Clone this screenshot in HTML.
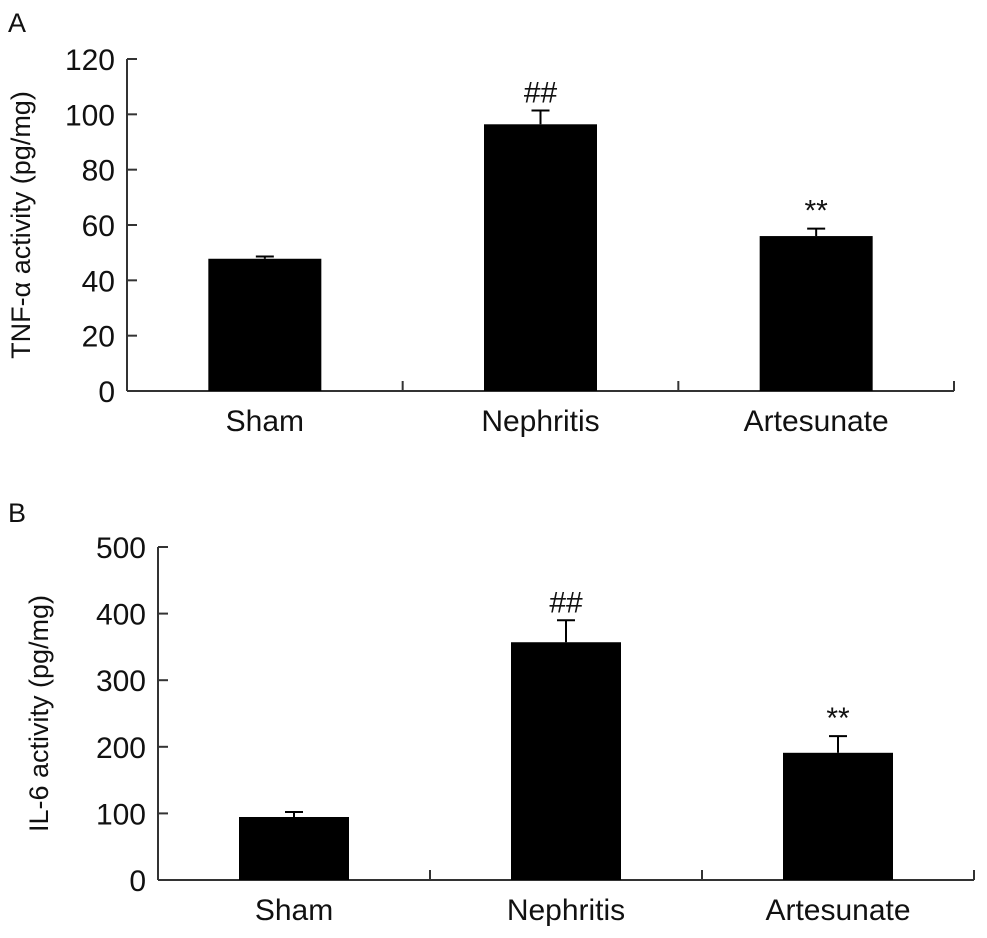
<!DOCTYPE html>
<html><head><meta charset="utf-8"><style>
body{margin:0;background:#fff;}
svg text{font-family:"Liberation Sans",Arial,sans-serif;fill:#111;}
</style></head><body>
<svg id="chart" width="987" height="933" viewBox="0 0 987 933" xmlns="http://www.w3.org/2000/svg"></svg>
<script>
const categories = ["Sham","Nephritis","Artesunate"];
const tnfValues = [47.8, 96.4, 56];
const tnfErrors = [0.8, 5, 2.7];
const tnfMarks = ["", "##", "**"];
const tnfTicks = [0,20,40,60,80,100,120];
const il6Values = [94.6, 357, 191];
const il6Errors = [7.5, 33, 25];
const il6Marks = ["", "##", "**"];
const il6Ticks = [0,100,200,300,400,500];

const svg = document.getElementById('chart');
const NS = "http://www.w3.org/2000/svg";
function mk(tag, attrs, parent){const e=document.createElementNS(NS,tag);for(const k in attrs)e.setAttribute(k,attrs[k]);(parent||svg).appendChild(e);return e;}

function panel(cfg){
  const g = mk('g',{});
  
  
  const yMax = cfg.ticks[cfg.ticks.length-1];
  const yS = v => cfg.y0 - (v / yMax) * (cfg.y0 - cfg.yTop);
  const catW = (cfg.xEnd - cfg.x0) / categories.length;
  const xC = i => cfg.x0 + catW * (i + 0.5);
  const L = mk('text',{x:cfg.letterX,y:cfg.letterY,'font-size':27},g); L.textContent=cfg.letter;
  
  
  const ya = mk('line',{x1:cfg.x0,y1:cfg.yTop,x2:cfg.x0,y2:cfg.y0,stroke:'#333','stroke-width':2},g);
  
  
  const xa = mk('line',{x1:cfg.x0,y1:cfg.y0,x2:cfg.xEnd,y2:cfg.y0,stroke:'#333','stroke-width':2},g);
  
  
  cfg.ticks.forEach(t=>{
    const y=yS(t);
    mk('line',{x1:cfg.x0,y1:y,x2:cfg.x0+10,y2:y,stroke:'#333','stroke-width':2},g);
    const tx=mk('text',{x:cfg.x0-12,y:y+11,'font-size':30,'text-anchor':'end'},g); tx.textContent=t;
    
    
  });
  for(let i=1;i<=categories.length;i++){
    const x=cfg.x0+catW*i;
    mk('line',{x1:x,y1:cfg.y0,x2:x,y2:cfg.y0-10,stroke:'#333','stroke-width':2},g);
  }
  categories.forEach((c,i)=>{
    const cx=xC(i), v=cfg.values[i], e=cfg.errors[i];
    const top=yS(v), et=yS(v+e);
    const el=mk('line',{x1:cx,y1:top,x2:cx,y2:et,stroke:'#000','stroke-width':2},g);
    
    
    mk('line',{x1:cx-9,y1:et,x2:cx+9,y2:et,stroke:'#000','stroke-width':2},g);
    const r=mk('rect',{x:cx-cfg.barW/2,y:top,width:cfg.barW,height:cfg.y0-top,fill:'#000'},g);
    
    
    if(cfg.marks[i]){
      const m=mk('text',{x:cx,y:et-8,'font-size':cfg.marks[i]=='**'?30:30,'text-anchor':'middle','font-family':'Liberation Serif'},g);
      m.textContent=cfg.marks[i];
      
      
    }
    const lt=mk('text',{x:cx,y:cfg.y0+40,'font-size':30,'text-anchor':'middle'},g); lt.textContent=c;
    
    
  });
  const yt=mk('text',{x:0,y:0,'font-size':27,'text-anchor':'middle',transform:`translate(${cfg.titleX},${(cfg.y0+cfg.yTop)/2}) rotate(-90)`},g);
  yt.textContent=cfg.title;
  
  
}
panel({name:'panel-a-tnf',letter:'A',letterX:8,letterY:32,x0:127,xEnd:954,y0:391,yTop:59,barW:113,ticks:tnfTicks,values:tnfValues,errors:tnfErrors,marks:tnfMarks,title:'TNF-α activity (pg/mg)',titleX:30});
panel({name:'panel-b-il6',letter:'B',letterX:8,letterY:522,x0:158,xEnd:974,y0:880,yTop:547,barW:110,ticks:il6Ticks,values:il6Values,errors:il6Errors,marks:il6Marks,title:'IL-6 activity (pg/mg)',titleX:48});
</script>
</body></html>
